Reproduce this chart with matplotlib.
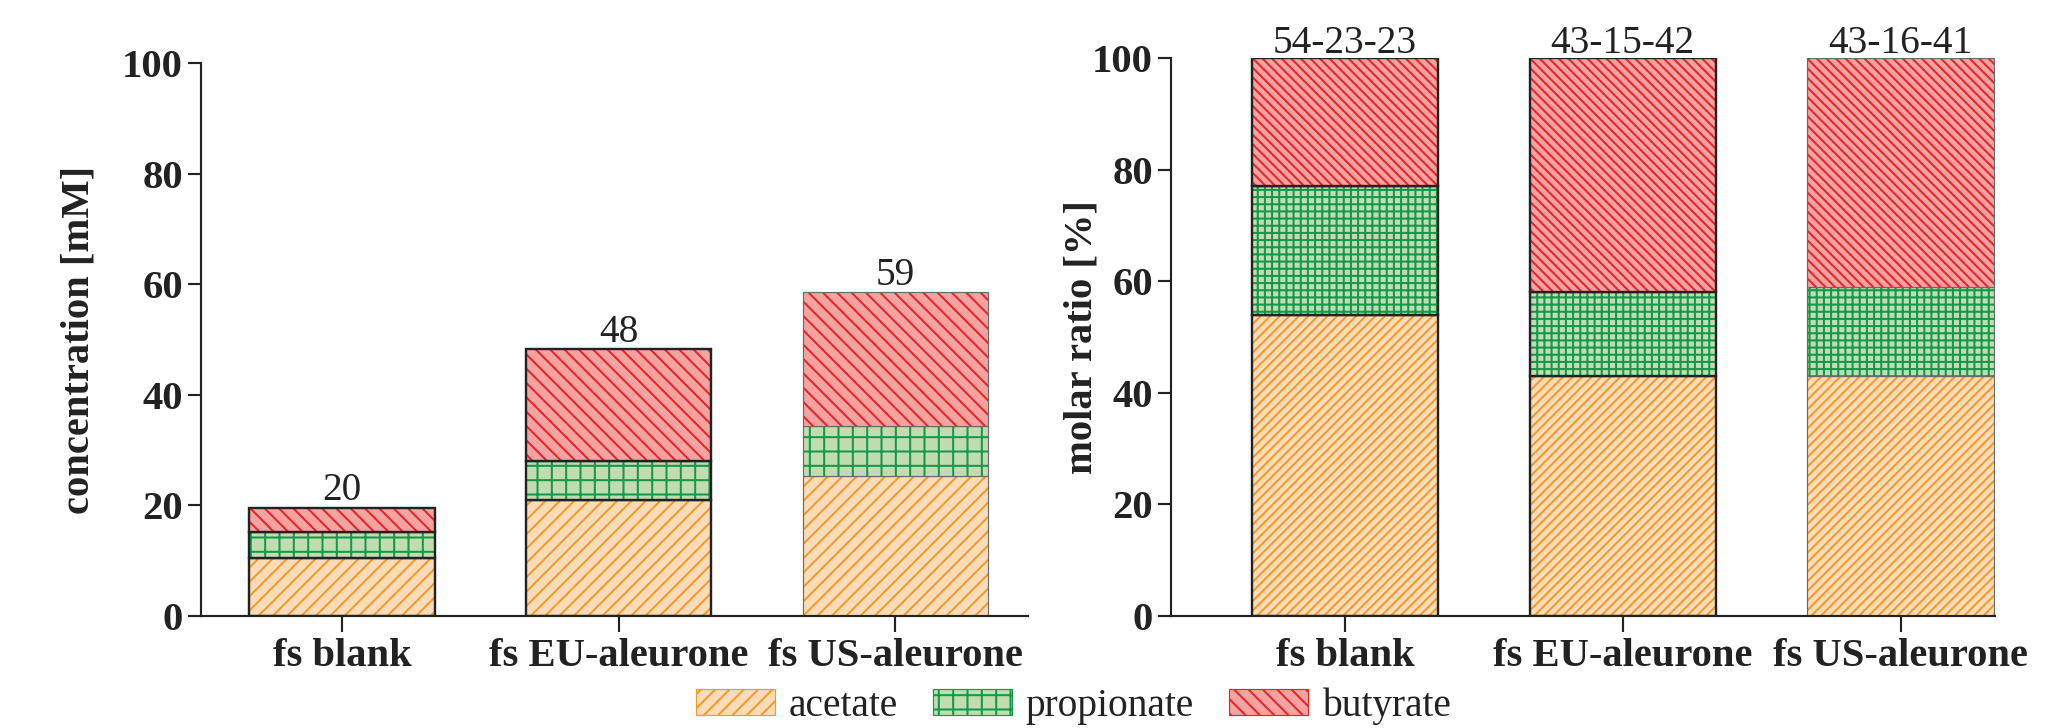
import matplotlib
matplotlib.use('Agg')
import matplotlib.pyplot as plt
from matplotlib.patches import Patch
import numpy as np

# data
samples = ['fs blank', 'fs EU-aleurone', 'fs US-aleurone']
acetate_mM = [10.5, 21.0, 25.4]
propionate_mM = [4.6, 7.0, 9.0]
butyrate_mM = [4.5, 20.3, 24.2]

acetate_pct = [54, 43, 43]
propionate_pct = [23, 15, 16]
butyrate_pct = [23, 42, 41]

names = ['acetate', 'propionate', 'butyrate']
face = ['#fbdcb9', '#c1ddb0', '#f4a3a0']
hatchcol = ['#f39a2b', '#12994a', '#e8252b']
hatch_left = ['//', '+', '\\\\']
hatch_right = ['///', '++', '\\\\\\']

DPI = 86
plt.rcParams['font.family'] = ['Liberation Serif', 'DejaVu Serif']
plt.rcParams['hatch.linewidth'] = 1.7
plt.rcParams['axes.linewidth'] = 1.8

W, H = 2072, 728
fig = plt.figure(figsize=(W / DPI, H / DPI), dpi=DPI)
ax1 = fig.add_axes([201 / W, 112 / H, (1028 - 201) / W, (616 - 63) / H])
ax2 = fig.add_axes([1171 / W, 112 / H, (1995 - 1171) / W, (616 - 58) / H])

x = np.arange(len(samples))
width = 0.67
outline = ['#222222', '#222222', '#6a6a6a']
outline_lw = [2.0, 2.0, 1.0]


def stacked(ax, series, hatches):
    bottom = np.zeros(len(samples))
    for k, vals in enumerate(series):
        vals = np.array(vals, dtype=float)
        ax.bar(x, vals, width, bottom=bottom, color=face[k], hatch=hatches[k],
               edgecolor=hatchcol[k], linewidth=0)
        for i in range(len(samples)):
            ax.bar(x[i], vals[i], width, bottom=bottom[i], fill=False,
                   edgecolor=outline[i], linewidth=outline_lw[i])
        bottom += vals
    return bottom


tot1 = stacked(ax1, [acetate_mM, propionate_mM, butyrate_mM], hatch_left)
tot2 = stacked(ax2, [acetate_pct, propionate_pct, butyrate_pct], hatch_right)

for i in range(len(samples)):
    ax1.annotate(f'{tot1[i]:.0f}', (x[i], tot1[i]), xytext=(0, 6),
                 textcoords='offset points', ha='center', va='baseline',
                 fontsize=33, color='#222222')
    lab = f'{acetate_pct[i]}-{propionate_pct[i]}-{butyrate_pct[i]}'
    ax2.annotate(lab, (x[i], tot2[i]), xytext=(0, 4),
                 textcoords='offset points', ha='center', va='baseline',
                 fontsize=33, color='#222222')

for ax in (ax1, ax2):
    ax.set_ylim(0, 100)
    ax.set_yticks([0, 20, 40, 60, 80, 100])
    ax.set_xticks(x)
    ax.set_xticklabels(samples, fontsize=34, fontweight='bold', color='#222222')
    ax.tick_params(axis='y', labelsize=34, length=11, width=1.8, pad=4, colors='#222222')
    ax.tick_params(axis='x', length=13, width=1.8, pad=5, colors='#222222')
    for lbl in ax.get_yticklabels():
        lbl.set_fontweight('bold')
    ax.spines['top'].set_visible(False)
    ax.spines['right'].set_visible(False)
    ax.spines['left'].set_color('#222222')
    ax.spines['bottom'].set_color('#222222')

ax1.set_xlim(-0.51, 2.48)
ax2.set_xlim(-0.626, 2.34)
ax1.set_ylabel('concentration [mM]', fontsize=34, fontweight='bold', color='#222222')
ax2.set_ylabel('molar ratio [%]', fontsize=34, fontweight='bold', color='#222222')
ax1.yaxis.set_label_coords(-0.125, 0.5)
ax2.yaxis.set_label_coords(-0.086, 0.5)

handles = [Patch(facecolor=face[k], edgecolor=hatchcol[k], hatch=hatch_left[k], linewidth=1.0)
           for k in range(3)]
fig.legend(handles, names, loc='center', bbox_to_anchor=(0.518, 0.03), ncol=3,
           frameon=False, fontsize=33, handlelength=2.0, handleheight=0.63,
           handletextpad=0.35, columnspacing=0.9, borderpad=0, labelcolor='#222222')

fig.savefig('out.png', dpi=DPI)
